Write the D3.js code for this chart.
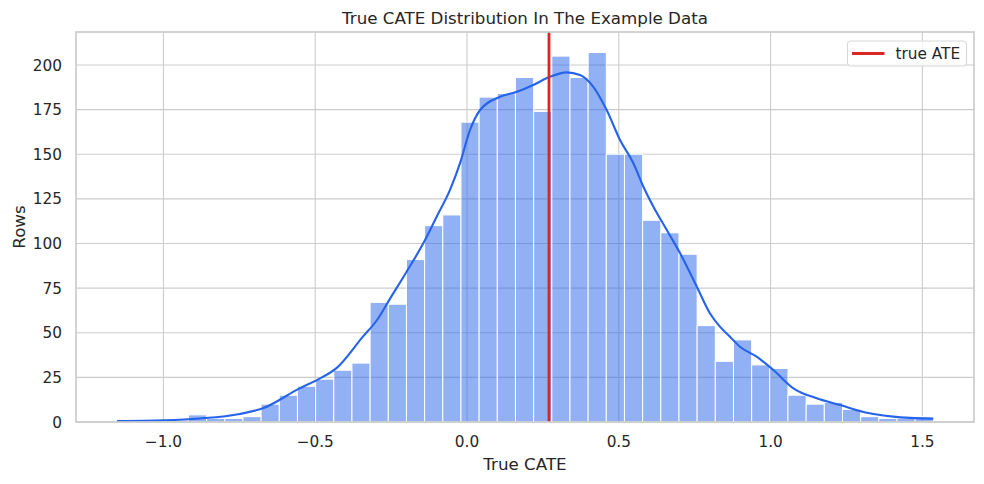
<!DOCTYPE html>
<html>
<head>
<meta charset="utf-8">
<script src="https://cdn.jsdelivr.net/npm/d3@7"></script>
<style>
    body { margin: 0; background: #fff; }
    text { font-family: "DejaVu Sans", sans-serif; fill: #262626; }
</style>
</head>
<body>
<script>
    // histogram counts, 45 equal bins between data min and max
    var binStart = -1.157, binEnd = 1.536;
    var counts = [1, 0, 0, 1, 4, 2, 2, 3, 10, 15,
                  20, 24, 29, 33, 67, 66, 91, 110, 116, 168,
                  182, 184, 193, 174, 205, 193, 207, 150, 150, 113,
                  106, 94, 54, 34, 46, 32, 30, 15, 10, 11,
                  7, 3, 2, 2, 3];

    // kde curve (x value, count-scaled height)
    var kdeX = [-1.153, -0.998, -0.879, -0.748, -0.672, -0.550, -0.495, -0.429, -0.343, -0.297,
                -0.254, -0.199, -0.144, -0.100, -0.056, -0.023, 0.010, 0.043, 0.109, 0.164,
                0.218, 0.273, 0.328, 0.372, 0.416, 0.460, 0.504, 0.548, 0.581, 0.614,
                0.658, 0.702, 0.757, 0.800, 0.833, 0.866, 0.899, 0.954, 1.009, 1.075,
                1.152, 1.229, 1.317, 1.404, 1.536];
    var kdeY = [0.6, 1.0, 2.0, 4.5, 7.7, 19, 23.5, 30.3, 47.8, 57,
                69, 84.2, 100.1, 115, 130, 145, 163.6, 174.8, 182.2, 185,
                188.8, 193.4, 195.9, 194.4, 187.8, 174.8, 158, 145, 131.8, 120.6,
                107.6, 94.5, 75.8, 60.9, 53.4, 47.8, 42.2, 36.6, 29.1, 18.9,
                13.3, 9.5, 5.2, 3.0, 1.8];

    var trueATE = 0.270;
    var xTicks = [-1.0, -0.5, 0.0, 0.5, 1.0, 1.5];
    var yTicks = [0, 25, 50, 75, 100, 125, 150, 175, 200];

    var W = 984, H = 484;
    var margin = {left: 76, top: 32, right: 10, bottom: 62};
    var width = W - margin.left - margin.right,
        height = H - margin.top - margin.bottom;

    var svg = d3.select('body').append('svg')
        .attr('width', W)
        .attr('height', H);
    var g = svg.append('g')
        .attr('transform', 'translate(' + [margin.left, margin.top] + ')');

    var x = d3.scaleLinear().domain([-1.288, 1.670]).range([0, width]);
    var y = d3.scaleLinear().domain([0, 218.5]).range([height, 0]);

    // grid
    g.append('g').selectAll('line.gx')
        .data(xTicks).enter().append('line')
        .attr('x1', d => x(d)).attr('x2', d => x(d))
        .attr('y1', 0).attr('y2', height)
        .attr('stroke', '#cccccc').attr('stroke-width', 1.1);
    g.append('g').selectAll('line.gy')
        .data(yTicks).enter().append('line')
        .attr('x1', 0).attr('x2', width)
        .attr('y1', d => y(d)).attr('y2', d => y(d))
        .attr('stroke', '#cccccc').attr('stroke-width', 1.1);

    // bars
    var bw = (binEnd - binStart) / counts.length;
    var bins = counts.map((c, i) => ({x0: binStart + i * bw, x1: binStart + (i + 1) * bw, n: c}));
    g.append('g').selectAll('rect')
        .data(bins.filter(d => d.n > 0)).enter().append('rect')
        .attr('x', d => x(d.x0))
        .attr('width', d => x(d.x1) - x(d.x0))
        .attr('y', d => y(d.n))
        .attr('height', d => y(0) - y(d.n))
        .attr('fill', 'rgba(37,99,235,0.5)')
        .attr('stroke', '#ffffff')
        .attr('stroke-width', 1);

    // kde
    var line = d3.line()
        .x(d => x(d[0]))
        .y(d => y(d[1]))
        .curve(d3.curveMonotoneX);
    g.append('path')
        .datum(kdeX.map((v, i) => [v, kdeY[i]]))
        .attr('d', line)
        .attr('fill', 'none')
        .attr('stroke', '#2563eb')
        .attr('stroke-width', 2.1);

    // true ATE
    g.append('line')
        .attr('x1', x(trueATE)).attr('x2', x(trueATE))
        .attr('y1', 0).attr('y2', height)
        .attr('stroke', '#dc2626')
        .attr('stroke-width', 2.8);

    // spines
    g.append('rect')
        .attr('width', width).attr('height', height)
        .attr('fill', 'none')
        .attr('stroke', '#cccccc')
        .attr('stroke-width', 1.7);

    // tick labels
    var fmt = d3.format('.1f');
    g.append('g').selectAll('text')
        .data(xTicks).enter().append('text')
        .attr('x', d => x(d))
        .attr('y', height + 25)
        .attr('text-anchor', 'middle')
        .style('font-size', '15.3px')
        .text(d => fmt(d));
    g.append('g').selectAll('text')
        .data(yTicks).enter().append('text')
        .attr('x', -14)
        .attr('y', d => y(d) + 5.5)
        .attr('text-anchor', 'end')
        .style('font-size', '15.3px')
        .text(d => d);

    // labels
    svg.append('text')
        .attr('x', margin.left + width / 2)
        .attr('y', 24)
        .attr('text-anchor', 'middle')
        .style('font-size', '16.7px')
        .text('True CATE Distribution In The Example Data');
    svg.append('text')
        .attr('x', margin.left + width / 2)
        .attr('y', 470)
        .attr('text-anchor', 'middle')
        .style('font-size', '16.7px')
        .text('True CATE');
    svg.append('text')
        .attr('transform', 'translate(25,' + (margin.top + height / 2) + ') rotate(-90)')
        .attr('text-anchor', 'middle')
        .style('font-size', '16.7px')
        .text('Rows');

    // legend
    var lg = svg.append('g').attr('transform', 'translate(847.5,41)');
    lg.append('rect')
        .attr('width', 119).attr('height', 25)
        .attr('rx', 3)
        .attr('fill', 'rgba(255,255,255,0.8)')
        .attr('stroke', '#d6d6d6')
        .attr('stroke-width', 1);
    lg.append('line')
        .attr('x1', 4.5).attr('x2', 37)
        .attr('y1', 12.5).attr('y2', 12.5)
        .attr('stroke', '#dc2626')
        .attr('stroke-width', 2.8);
    lg.append('text')
        .attr('x', 48)
        .attr('y', 18)
        .style('font-size', '15.3px')
        .text('true ATE');
</script>
</body>
</html>
